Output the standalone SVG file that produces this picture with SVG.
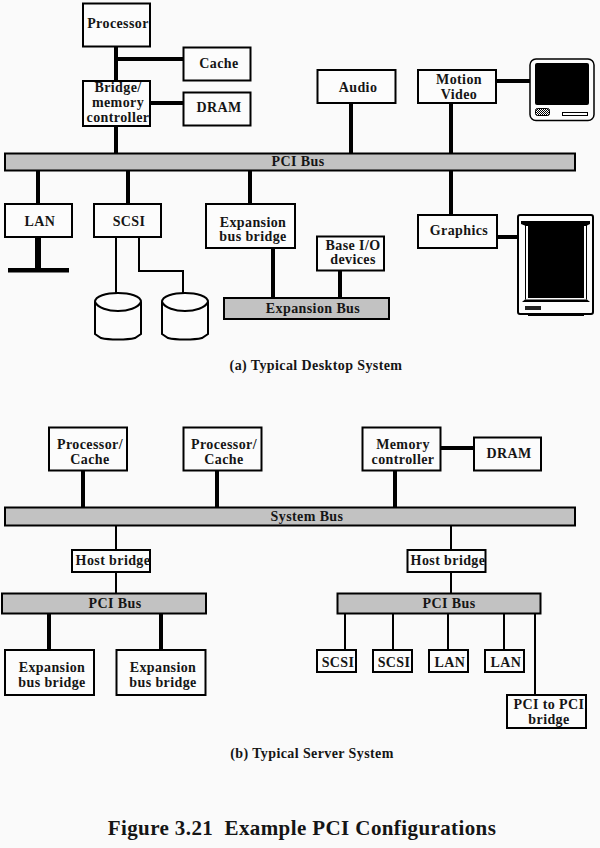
<svg xmlns="http://www.w3.org/2000/svg" width="600" height="848" viewBox="0 0 600 848">
<style>
text{font-family:"Liberation Serif","Times New Roman",serif;font-weight:bold;font-size:14px;letter-spacing:.4px;fill:#151515;text-anchor:middle}
.box{fill:#fcfcfc;stroke:#000;stroke-width:2}
.bus{fill:#c2c2c2;stroke:#000;stroke-width:2}
.c4{stroke:#000;stroke-width:4;fill:none}
.c2{stroke:#000;stroke-width:2;fill:none}
.disk{fill:#fcfcfc;stroke:#000;stroke-width:2}
.cap{font-size:14px}
.title{font-size:21px;letter-spacing:.4px;white-space:pre}
</style>
<defs>
<pattern id="dots" width="2" height="2" patternUnits="userSpaceOnUse"><rect width="2" height="2" fill="#fff"/><rect width="1" height="1" fill="#000"/><rect x="1" y="1" width="1" height="1" fill="#000"/></pattern>
<g id="cyl"><path class="disk" d="M0 9C0 -3 46 -3 46 9V41L40 45C32 47 14 47 6 45L0 41Z"/><path class="c2" d="M0 9C6 21 40 21 46 9"/></g>
</defs>
<rect width="600" height="848" fill="#fafafa"/>
<g id="connectors">
<path class="c4" d="M116 46V153M116 59H183M150 103H183M351 103V153M451 103V153M496 81H530M38 171V204M128 171V204M250 171V204M451 171V214M497 237H518M273 248V297M340 271V297M83 471V507M217 471V507M395 471V507M440 448H474M49 614V649M161 614V649"/>
<path d="M35 237H41V268H69V272.500H8V268H35Z" fill="#000"/>
<path class="c2" d="M116 237V293M139 237V271H183V293M116 526V593M451 526V593M345 614V650M393 614V650M448 614V650M504 614V650M535 614V695"/>
</g>
<g id="processor"><rect class="box" x="83" y="3.500" width="67" height="43"/><text x="118" y="28">Processor</text></g>
<g id="cache"><rect class="box" x="183.500" y="47.500" width="67" height="33"/><text x="219" y="68">Cache</text></g>
<g id="bridge"><rect class="box" x="83" y="81" width="67" height="45"/><text x="118" y="92">Bridge/</text><text x="118" y="107">memory</text><text x="118" y="122">controller</text></g>
<g id="dram1"><rect class="box" x="183.500" y="92.500" width="67" height="33"/><text x="219" y="112">DRAM</text></g>
<g id="audio"><rect class="box" x="317.500" y="70" width="78" height="33"/><text x="358" y="92">Audio</text></g>
<g id="motion"><rect class="box" x="418" y="70" width="78" height="33"/><text x="459" y="84">Motion</text><text x="459" y="99">Video</text></g>
<g id="monitor1"><rect x="530" y="59" width="64" height="61.500" rx="6" fill="#fcfcfc" stroke="#000" stroke-width="1.500"/><rect x="535" y="63" width="54" height="42" rx="2" fill="#000"/><rect x="535.500" y="108.500" width="14" height="7" rx="2" fill="url(#dots)" stroke="#000"/><rect x="562.500" y="112.500" width="25" height="3" fill="#fff" stroke="#000"/></g>
<g id="pci-bus-a"><rect class="bus" x="5" y="153.500" width="570" height="17"/><text x="298" y="166">PCI Bus</text></g>
<g id="lan1"><rect class="box" x="5" y="204" width="67" height="33"/><text x="40" y="226">LAN</text></g>
<g id="scsi1"><rect class="box" x="94" y="204" width="67" height="33"/><text x="129" y="226">SCSI</text></g>
<g id="expbridge1"><rect class="box" x="206" y="204" width="89" height="44"/><text x="253" y="227">Expansion</text><text x="253" y="241">bus bridge</text></g>
<g id="baseio"><rect class="box" x="317" y="236.500" width="67" height="34"/><text x="353" y="250">Base I/O</text><text x="353" y="264">devices</text></g>
<g id="expbus"><rect class="bus" x="224" y="298" width="165" height="21"/><text x="313" y="313">Expansion Bus</text></g>
<g id="graphics"><rect class="box" x="418" y="215" width="79" height="33"/><text x="459" y="235">Graphics</text></g>
<g id="monitor2"><rect x="518" y="215" width="75" height="99" rx="2" fill="#fcfcfc" stroke="#000" stroke-width="2"/><path d="M528 314H584V316H528Z" fill="#000"/><path d="M521 221H590V224L586 226H526L521 224Z" fill="#000"/><rect x="528" y="225" width="56" height="73" fill="#000"/><path d="M525.500 225V299.500M586.500 225V299.500" stroke="#000" stroke-width="1" fill="none"/><path d="M522 302L525 299.500H587L590 302Z" fill="#000"/><rect x="525" y="306" width="16" height="4" fill="#222"/></g>
<g id="disk1"><use href="#cyl" x="95" y="293"/></g>
<g id="disk2"><use href="#cyl" x="162" y="293"/></g>
<text class="cap" x="316" y="370">(a) Typical Desktop System</text>
<g id="proc1"><rect class="box" x="49" y="427.500" width="78" height="43"/><text x="90" y="449">Processor/</text><text x="90" y="464">Cache</text></g>
<g id="proc2"><rect class="box" x="183.500" y="427.500" width="78" height="43"/><text x="224" y="449">Processor/</text><text x="224" y="464">Cache</text></g>
<g id="memctl"><rect class="box" x="362.500" y="427.500" width="78" height="43"/><text x="403" y="449">Memory</text><text x="403" y="464">controller</text></g>
<g id="dram2"><rect class="box" x="474" y="437.500" width="67" height="33"/><text x="509" y="458">DRAM</text></g>
<g id="system-bus"><rect class="bus" x="5" y="507.500" width="570" height="18"/><text x="307" y="521">System Bus</text></g>
<g id="host1"><rect class="box" x="72" y="550" width="78" height="22"/><text x="113" y="565">Host bridge</text></g>
<g id="host2"><rect class="box" x="407.500" y="550" width="78" height="22"/><text x="448" y="565">Host bridge</text></g>
<g id="pci-bus-b1"><rect class="bus" x="2" y="593.500" width="204" height="20"/><text x="115" y="608">PCI Bus</text></g>
<g id="pci-bus-b2"><rect class="bus" x="337.500" y="593.500" width="203" height="20"/><text x="449" y="608">PCI Bus</text></g>
<g id="exp2"><rect class="box" x="5" y="650" width="89" height="45"/><text x="52" y="672">Expansion</text><text x="52" y="687">bus bridge</text></g>
<g id="exp3"><rect class="box" x="116.500" y="650" width="89" height="45"/><text x="163" y="672">Expansion</text><text x="163" y="687">bus bridge</text></g>
<g id="scsi2"><rect class="box" x="317" y="650" width="39" height="22"/><text x="338" y="667">SCSI</text></g>
<g id="scsi3"><rect class="box" x="373" y="650" width="39" height="22"/><text x="394" y="667">SCSI</text></g>
<g id="lan2"><rect class="box" x="429" y="650" width="39" height="22"/><text x="450" y="667">LAN</text></g>
<g id="lan3"><rect class="box" x="485" y="650" width="39" height="22"/><text x="506" y="667">LAN</text></g>
<g id="pcipci"><rect class="box" x="507" y="695" width="79" height="33"/><text x="549" y="709">PCI to PCI</text><text x="549" y="724">bridge</text></g>
<text class="cap" x="312" y="758">(b) Typical Server System</text>
<text class="title" x="302" y="835">Figure 3.21  Example PCI Configurations</text>
</svg>
